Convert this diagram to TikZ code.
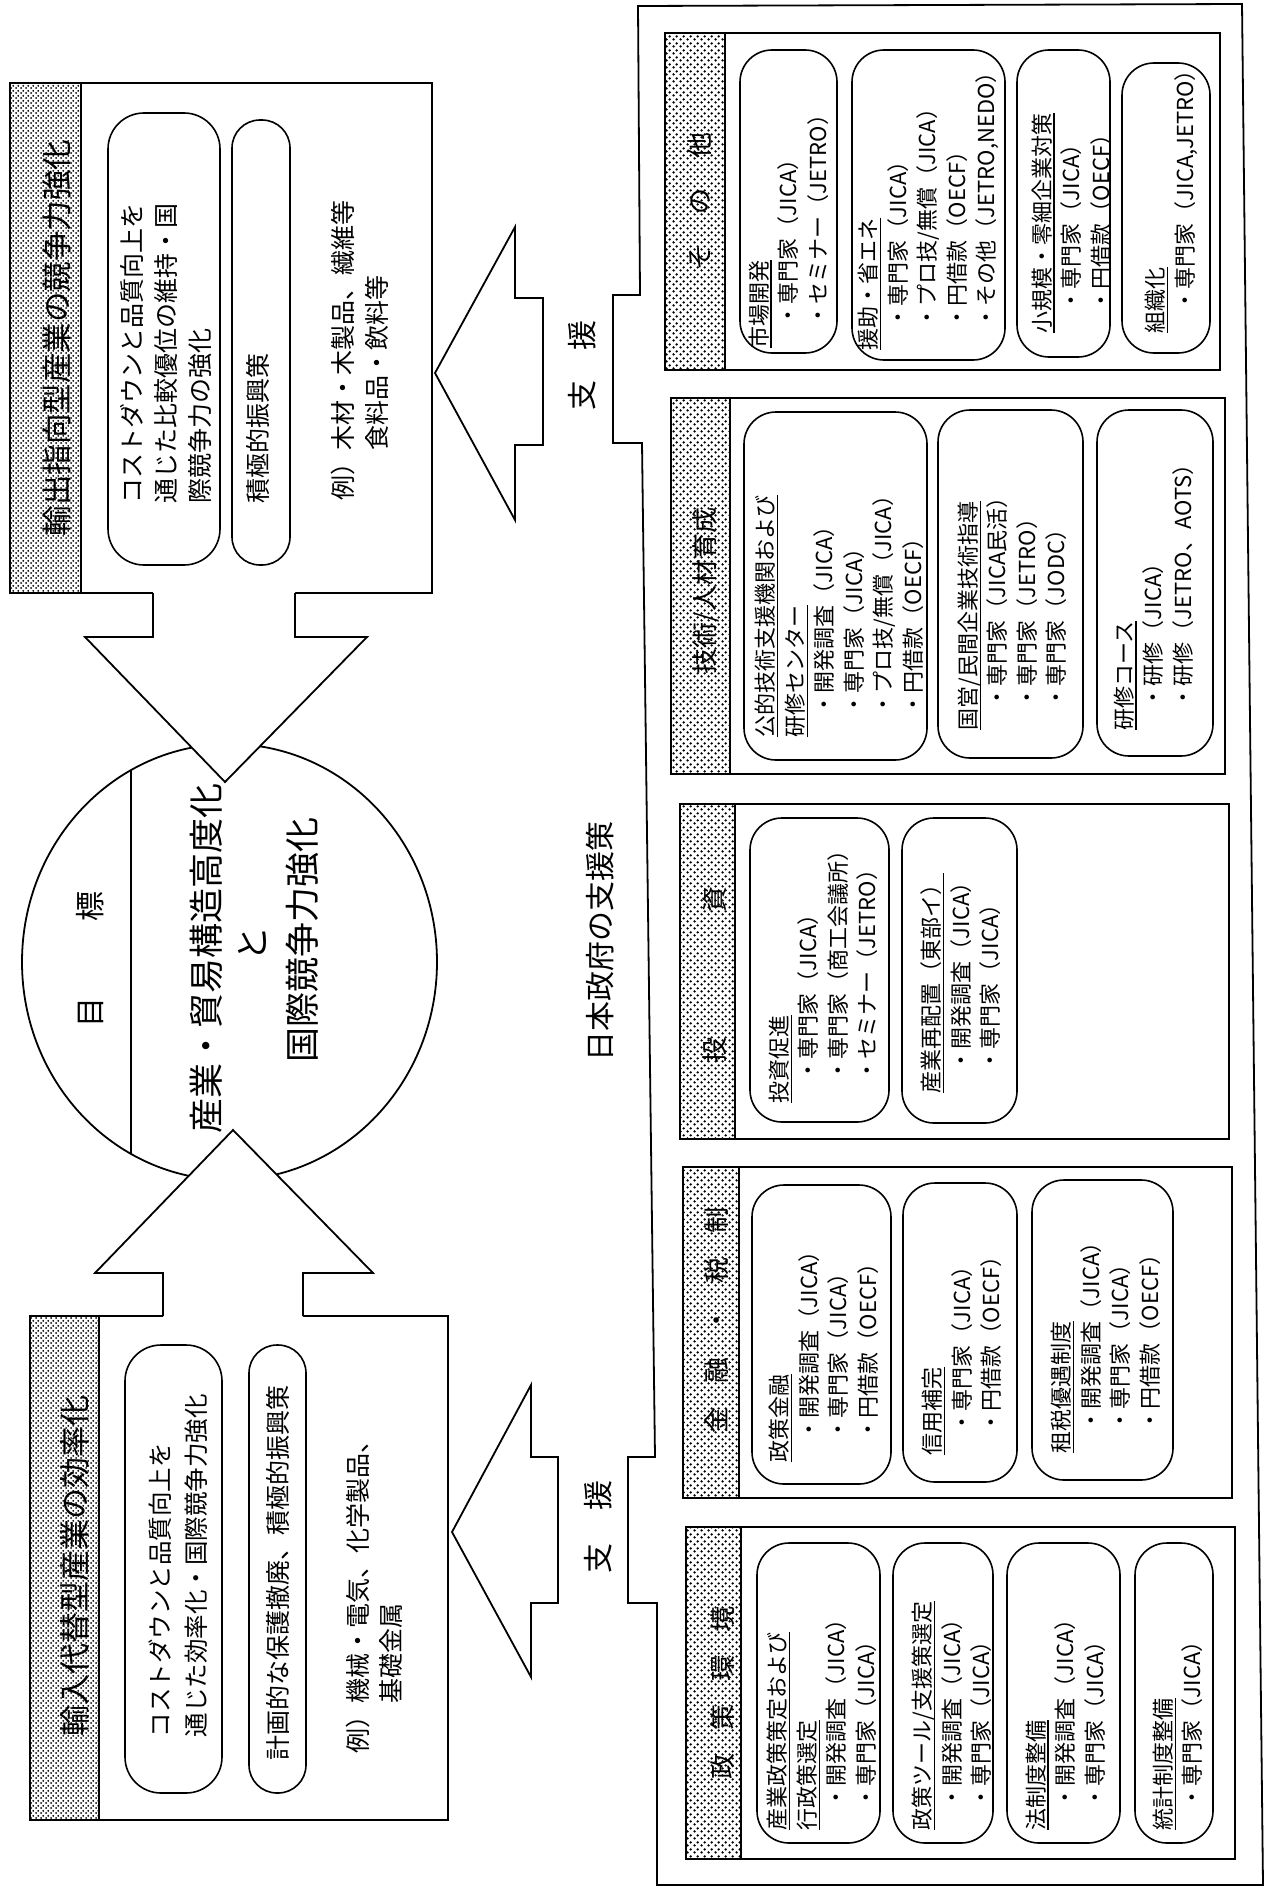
\documentclass[tikz,border=0pt]{standalone}
\usepackage{fontspec}
\setmainfont{Noto Sans CJK JP}
\usetikzlibrary{patterns}
\pgfdeclarepatternformonly{halftone}{\pgfpointorigin}{\pgfpoint{7pt}{7pt}}{\pgfpoint{7pt}{7pt}}{%
  \pgfpathcircle{\pgfpoint{1.75pt}{1.75pt}}{1.45pt}%
  \pgfpathcircle{\pgfpoint{5.25pt}{5.25pt}}{1.45pt}%
  \pgfusepath{fill}}
\pgfdeclarepatternformonly{halftonedense}{\pgfpointorigin}{\pgfpoint{5pt}{5pt}}{\pgfpoint{5pt}{5pt}}{%
  \pgfpathcircle{\pgfpoint{1.25pt}{1.25pt}}{1.2pt}%
  \pgfpathcircle{\pgfpoint{3.75pt}{3.75pt}}{1.2pt}%
  \pgfusepath{fill}}
\newsavebox\ulbox
\newcommand{\myul}[1]{\sbox\ulbox{#1}\rlap{\rule[-0.2em]{\wd\ulbox}{1.3pt}}\usebox\ulbox}
\newcommand{\mybul}{\hspace*{1em}・}
\begin{document}
\begin{tikzpicture}[x=1pt, y=-1pt,
  outl/.style={draw, line width=1.8pt, line join=miter},
  rbox/.style={draw, line width=1.6pt, rounded corners=32pt},
  hatchstrip/.style={draw, line width=1.6pt, pattern=halftone, pattern color=black},
  hatchdense/.style={draw, line width=1.6pt, pattern=halftonedense, pattern color=black},
  vt/.style={rotate=90, inner sep=0pt, outer sep=0pt},
  sbt/.style={vt, anchor=west, align=left, font=\fontsize{22}{29.5}\selectfont},
  lbt/.style={vt, anchor=west, align=left, font=\fontsize{25}{34}\selectfont},
  striptitle/.style={vt, font=\fontsize{26}{30}\selectfont},
  bigtitle/.style={vt, font=\fontsize{31}{36}\selectfont},
  goaltext/.style={vt, font=\fontsize{35}{40}\selectfont},
]
\fill[white] (0,0) rectangle (1273,1889);
\useasboundingbox (0,0) rectangle (1273,1889);

% ---------- export-oriented industry box ----------
\draw[outl] (10,83) rectangle (432,593);
\draw[hatchdense] (10,83) rectangle (81,593);
\draw[rbox, rounded corners=36pt] (108,113) rectangle (220,565);
\draw[rbox, rounded corners=28pt] (232,120) rectangle (290,565);

% ---------- import-substitution industry box ----------
\draw[outl] (30,1316) rectangle (448,1820);
\draw[hatchdense] (30,1316) rectangle (99,1820);
\draw[rbox, rounded corners=36pt] (125,1345) rectangle (222,1793);
\draw[rbox, rounded corners=28pt] (249,1345) rectangle (306,1793);

% ---------- goal circle ----------
\draw[outl] (229.5,962) ellipse [x radius=207.5pt, y radius=218pt];
\draw[outl] (131,770.1) -- (131,1153.9);

% ---------- block arrows into the goal ----------
\fill[white] (153,590) -- (153,637) -- (85,637) -- (225,782) -- (367,637) -- (295,637) -- (295,590) -- cycle;
\draw[outl] (153,593) -- (153,637) -- (85,637) -- (225,782) -- (367,637) -- (295,637) -- (295,593);
\fill[white] (163,1319) -- (163,1273) -- (95,1273) -- (233,1130) -- (373,1273) -- (303,1273) -- (303,1319) -- cycle;
\draw[outl] (163,1316) -- (163,1273) -- (95,1273) -- (233,1130) -- (373,1273) -- (303,1273) -- (303,1316);

% ---------- support arrows ----------
\draw[outl, fill=white] (435,373) -- (515,227) -- (515,298) -- (543,298) -- (543,445) -- (515,445) -- (515,520) -- cycle;
\draw[outl, fill=white] (452,1532) -- (531,1385) -- (531,1457) -- (558,1457) -- (558,1603) -- (531,1603) -- (531,1677) -- cycle;

% ---------- support frame ----------
\draw[outl] (638,6) -- (1242,4) -- (1263,1885) -- (657,1885) -- (657,1603) -- (628,1603) -- (628,1457) -- (655,1457) -- (642,443) -- (613,443) -- (613,295) -- (640,295) -- cycle;

% sections
\draw[outl] (665,33) rectangle (1220,370);
\draw[hatchstrip] (665,33) rectangle (725,370);
\draw[outl] (671,398) rectangle (1225,774);
\draw[hatchstrip] (671,398) rectangle (730,774);
\draw[outl] (680,804) rectangle (1229,1139);
\draw[hatchstrip] (680,804) rectangle (735,1139);
\draw[outl] (683,1167) rectangle (1232,1498);
\draw[hatchstrip] (683,1167) rectangle (739,1498);
\draw[outl] (686,1527) rectangle (1235,1859);
\draw[hatchstrip] (686,1527) rectangle (741,1859);

% rounded boxes: others
\draw[rbox] (740,50) rectangle (837,353);
\draw[rbox] (852,50) rectangle (1005,360);
\draw[rbox] (1017,50) rectangle (1110,357);
\draw[rbox] (1122,63) rectangle (1210,353);
% technology
\draw[rbox] (744,412) rectangle (927,760);
\draw[rbox] (938,410) rectangle (1083,758);
\draw[rbox] (1097,410) rectangle (1213,756);
% investment
\draw[rbox] (750,818) rectangle (889,1122);
\draw[rbox] (902,818) rectangle (1017,1123);
% finance
\draw[rbox] (752,1185) rectangle (891,1484);
\draw[rbox] (903,1183) rectangle (1017,1482);
\draw[rbox] (1032,1180) rectangle (1173,1480);
% policy environment
\draw[rbox] (757,1543) rectangle (880,1843);
\draw[rbox] (893,1543) rectangle (993,1843);
\draw[rbox] (1007,1543) rectangle (1120,1843);
\draw[rbox] (1135,1543) rectangle (1213,1843);

% ---------- texts: left boxes ----------
\node[bigtitle, font=\fontsize{30.5}{36}\selectfont] (exptitle) at (57,338) {輸出指向型産業の競争力強化};
\node[lbt] (expA) at (166.5,503) {コストダウンと品質向上を\\通じた比較優位の維持・国\\際競争力の強化};
\node[lbt] (expB) at (258,503) {積極的振興策};
\node[lbt] (expC) at (360,500) {例）木材・木製品、繊維等\\\hspace*{2em}食料品・飲料等};

\node[bigtitle] (imptitle) at (75,1566) {輸入代替型産業の効率化};
\node[lbt, font=\fontsize{24.5}{36}\selectfont] (impA) at (178,1737) {コストダウンと品質向上を\\通じた効率化・国際競争力強化};
\node[lbt] (impB) at (278,1760) {計画的な保護撤廃、積極的振興策};
\node[lbt, font=\fontsize{25}{33}\selectfont] (impC) at (374.5,1753) {例）機械・電気、化学製品、\\\hspace*{2em}基礎金属};

% ---------- texts: goal ----------
\node[vt, font=\fontsize{30}{36}\selectfont] (goalhead) at (90,959) {目\hspace{76pt}標};
\node[goaltext] (goalA) at (206,958) {産業・貿易構造高度化};
\node[goaltext] (goalB) at (252,944) {と};
\node[goaltext] (goalC) at (302,940) {国際競争力強化};

% ---------- texts: support ----------
\node[vt, font=\fontsize{30}{36}\selectfont] (govt) at (600,941) {日本政府の支援策};
\node[vt, font=\fontsize{30}{36}\selectfont] (supA) at (582,365) {支\hspace{30pt}援};
\node[vt, font=\fontsize{30}{36}\selectfont] (supB) at (598,1527) {支\hspace{33pt}援};

\node[striptitle] (sOther) at (700,201) {そ\hspace{30pt}の\hspace{30pt}他};
\node[striptitle] (sTech) at (706,591) {技術/人材育成};
\node[striptitle] (sInv) at (715,975) {投\hspace{125pt}資};
\node[striptitle] (sFin) at (717,1320) {金\hspace{24pt}融\hspace{24pt}・\hspace{24pt}税\hspace{24pt}制};
\node[striptitle] (sPol) at (723,1693) {政\hspace{23pt}策\hspace{23pt}環\hspace{23pt}境};

\node[sbt] (oA) at (788.5,348) {\myul{市場開発}\\\mybul 専門家（JICA）\\\mybul セミナー（JETRO）};
\node[sbt] (oB) at (928.5,350) {\myul{援助・省エネ}\\\mybul 専門家（JICA）\\\mybul プロ技/無償（JICA）\\\mybul 円借款（OECF）\\\mybul その他（JETRO,NEDO）};
\node[sbt] (oC) at (1071.5,333) {\myul{小規模・零細企業対策}\\\mybul 専門家（JICA）\\\mybul 円借款（OECF）};
\node[sbt] (oD) at (1171.5,333) {\myul{組織化}\\\mybul 専門家（JICA,JETRO）};

\node[sbt] (tA) at (839.5,737) {\myul{公的技術支援機関および}\\\myul{研修センター}\\\mybul 開発調査（JICA）\\\mybul 専門家（JICA）\\\mybul プロ技/無償（JICA）\\\mybul 円借款（OECF）};
\node[sbt] (tB) at (1012.5,730) {\myul{国営/民間企業技術指導}\\\mybul 専門家（JICA民活）\\\mybul 専門家（JETRO）\\\mybul 専門家（JODC）};
\node[sbt] (tC) at (1153.5,730) {\myul{研修コース}\\\mybul 研修（JICA）\\\mybul 研修（JETRO、AOTS）};

\node[sbt] (iA) at (823.5,1103) {\myul{投資促進}\\\mybul 専門家（JICA）\\\mybul 専門家（商工会議所）\\\mybul セミナー（JETRO）};
\node[sbt] (iB) at (961,1093) {\myul{産業再配置（東部イ）}\\\mybul 開発調査（JICA）\\\mybul 専門家（JICA）};

\node[sbt] (fA) at (824,1462) {\myul{政策金融}\\\mybul 開発調査（JICA）\\\mybul 専門家（JICA）\\\mybul 円借款（OECF）};
\node[sbt] (fB) at (962,1455) {\myul{信用補完}\\\mybul 専門家（JICA）\\\mybul 円借款（OECF）};
\node[sbt] (fC) at (1106,1453) {\myul{租税優遇制度}\\\mybul 開発調査（JICA）\\\mybul 専門家（JICA）\\\mybul 円借款（OECF）};

\node[sbt] (pA) at (822,1830) {\myul{産業政策策定および}\\\myul{行政策選定}\\\mybul 開発調査（JICA）\\\mybul 専門家（JICA）};
\node[sbt] (pB) at (952,1830) {\myul{政策ツール/支援策選定}\\\mybul 開発調査（JICA）\\\mybul 専門家（JICA）};
\node[sbt] (pC) at (1065.5,1830) {\myul{法制度整備}\\\mybul 開発調査（JICA）\\\mybul 専門家（JICA）};
\node[sbt] (pD) at (1178,1830) {\myul{統計制度整備}\\\mybul 専門家（JICA）};
\end{tikzpicture}
\end{document}
